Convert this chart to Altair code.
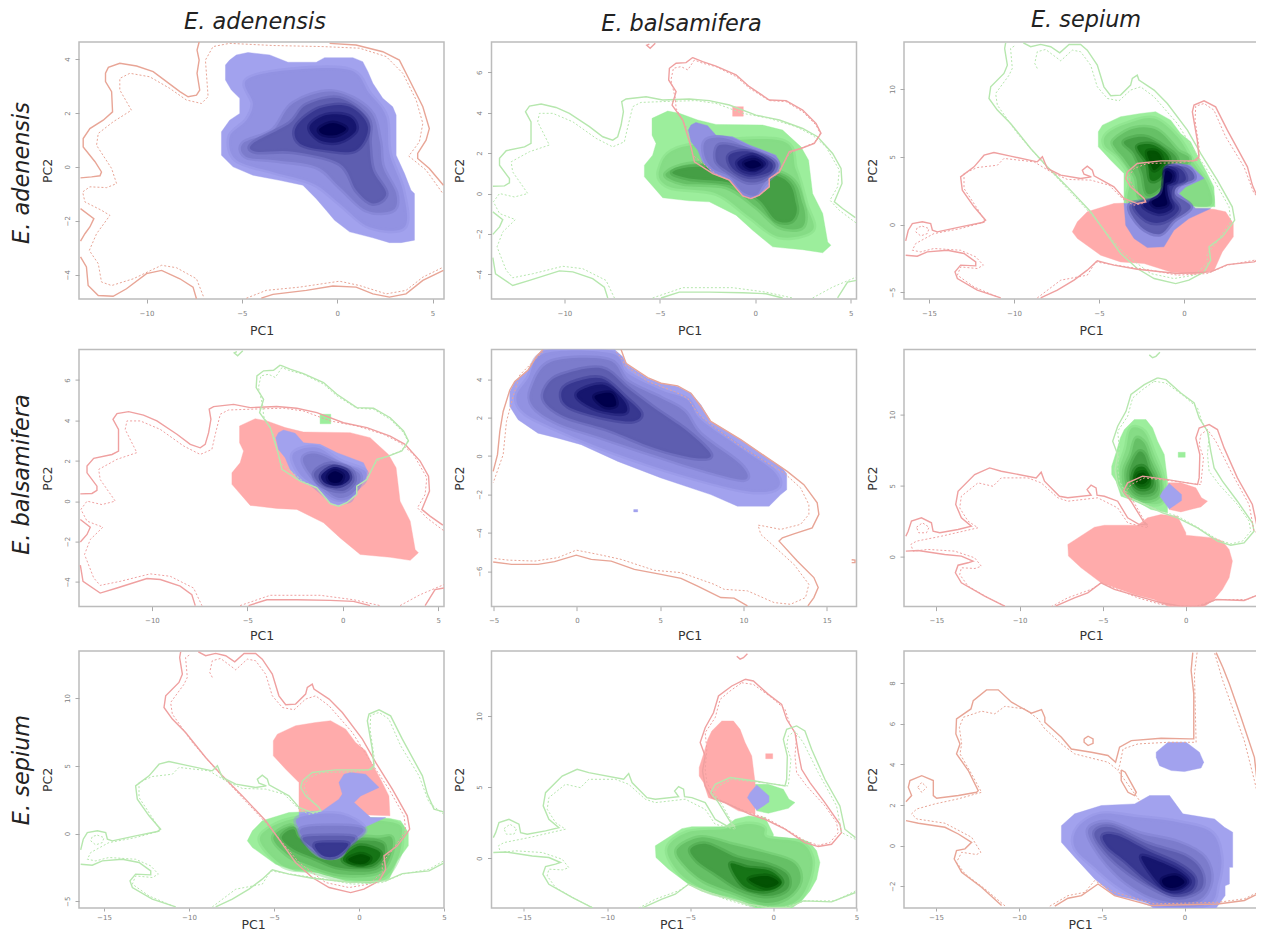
import altair as alt
import pandas as pd

# ---------- colours ----------
SALMON = "#e8a596"
RED_LINE = "#efa0a0"
GREEN_LINE = "#b6e7ae"
RED_FILL = "#ffabab"
GREEN_RAMP = ["#9cee9c", "#86dc86", "#66c066", "#459f45", "#167416", "#035203"]
BLUE_RAMP = ["#a2a2ee", "#9292e2", "#7c7ccc", "#5e5eb0", "#383890", "#16166e", "#00004c"]

# ---------- panel (adenensis, adenensis) ----------
A1_S1 = [(-7.24,4.63),(-7.35,4.33),(-7.24,3.96),(-7.35,3.47),(-7.21,2.85),(-7.38,2.66),(-7.82,2.6),(-8.25,2.79),(-8.95,3.16),(-9.65,3.53),(-10.52,3.74),(-11.4,3.84),(-12.0,3.69),(-12.15,3.47),(-12.15,3.16),(-11.83,2.79),(-11.78,2.04),(-12.27,1.73),(-12.97,1.42),(-13.32,1.05),(-13.32,0.74),(-12.7,0.19),(-12.36,-0.19),(-12.44,-0.33),(-12.88,-0.37),(-13.46,-0.41)]
A1_S2 = [(-13.46,-1.55),(-12.76,-1.92),(-12.97,-2.23),(-13.23,-2.48),(-13.46,-2.75)]
A1_S3 = [(-13.46,-3.34),(-13.15,-3.71),(-13.06,-4.4),(-12.53,-4.77),(-11.75,-4.8),(-11.05,-4.52),(-10.0,-3.96),(-9.21,-3.84),(-8.25,-4.15),(-7.56,-4.46),(-7.38,-4.89)]
A1_S4 = [(-3.98,-4.87),(-3.37,-4.73),(-1.62,-4.58),(-0.23,-4.42),(0.99,-4.46),(1.87,-4.71),(2.74,-4.83),(3.61,-4.71),(4.49,-4.21),(5.57,-3.84)]
A1_S5 = [(-0.4,4.58),(0.99,4.52),(2.39,4.27),(3.26,3.96),(3.79,3.22),(4.49,2.23),(4.83,1.42),(4.66,0.99),(4.22,0.5),(4.22,0.31),(4.83,-0.06),(5.57,-0.68)]
A1_D1 = [(5.5,-0.95),(4.66,-0.12),(3.75,0.4),(4.31,0.93),(4.49,1.61),(4.14,2.48),(3.44,3.47),(2.57,4.09),(1.17,4.4),(-0.75,4.46),(-3.37,4.5),(-5.64,4.58),(-6.51,4.46),(-6.91,3.96),(-6.77,2.6),(-7.12,2.35),(-7.91,2.48),(-8.78,2.91),(-9.83,3.34),(-10.87,3.47),(-11.4,3.28),(-11.4,2.85),(-10.79,2.1),(-11.75,1.67),(-12.53,1.24),(-12.62,0.8),(-11.83,-0.06),(-11.57,-0.62),(-12.09,-0.77),(-12.97,-0.74),(-13.35,-0.93),(-13.23,-1.3),(-12.36,-1.61),(-11.92,-1.8),(-12.62,-2.48),(-13.0,-3.1),(-12.53,-3.59),(-12.36,-4.27),(-11.83,-4.4),(-10.69,-4.15),(-9.21,-3.65),(-8.43,-3.74),(-7.38,-4.15),(-6.98,-4.87)]
A1_D2 = [(-4.76,-4.87),(-3.72,-4.58),(-1.97,-4.46),(0.12,-4.24),(1.17,-4.4),(2.57,-4.71),(3.61,-4.58),(4.49,-4.09),(5.5,-3.74)]
A1_OUT = [(-5.29,4.15),(-4.68,4.24),(-3.54,4.15),(-2.58,3.88),(-1.1,3.88),(-0.66,4.05),(0.82,4.05),(1.34,3.9),(1.61,3.53),(1.87,3.1),(2.39,2.54),(2.91,2.23),(3.09,1.92),(3.09,0.43),(3.53,-0.25),(3.87,-0.87),(4.05,-0.99),(4.05,-2.72),(3.35,-2.81),(2.74,-2.81),(1.87,-2.63),(0.65,-2.41),(-0.14,-1.98),(-0.58,-1.61),(-1.1,-1.18),(-1.8,-0.68),(-3.02,-0.5),(-4.42,-0.31),(-5.46,0),(-6.07,0.43),(-6.07,1.3),(-5.64,1.73),(-5.11,1.98),(-5.11,2.54),(-5.55,2.85),(-5.86,3.22),(-5.86,3.78),(-5.64,3.96)]
A1_LEVELS = [
 [(-4.76,3.22),(-2.5,3.59),(0.65,3.59),(1.69,2.72),(2.57,1.86),(2.74,0.5),(3.44,-0.87),(3.53,-2.23),(1.69,-2.23),(0.12,-1.36),(-1.27,-0.62),(-3.37,-0.19),(-5.29,0.25),(-5.64,1.11),(-4.76,1.73),(-4.42,2.35)],
 [(-4.94,0.87),(-3.37,1.36),(-2.32,2.35),(-0.23,2.79),(1.69,2.1),(2.22,0.99),(2.39,0),(3.09,-0.99),(2.91,-1.61),(1.52,-1.61),(0.12,-0.74),(-1.1,0),(-3.37,0.25),(-4.76,0.37)],
 [(-4.42,0.87),(-2.5,1.61),(-1.62,2.29),(0.12,2.54),(1.61,1.8),(1.69,0.87),(1.87,-0.12),(2.57,-0.99),(1.87,-1.36),(1.0,-0.87),(0.12,0.12),(-2.32,0.56),(-4.24,0.56)],
 [(-2.15,1.49),(-0.92,2.17),(0.65,2.23),(1.61,1.49),(0.99,0.62),(-0.58,0.62),(-1.97,0.87)],
 [(-1.45,1.49),(-0.58,1.92),(0.65,1.86),(0.99,1.36),(0.12,0.93),(-0.92,0.99)],
 [(-0.92,1.42),(-0.23,1.63),(0.47,1.42),(-0.05,1.18),(-0.75,1.21)],
]

# ---------- adenensis / balsamifera space ----------
AB_A_S1 = [(5.24,-1.19),(4.57,-0.74),(4.14,-0.41),(4.54,0.5),(4.49,1.24),(4.05,1.98),(3.26,2.81),(2.48,3.22),(1.26,3.64),(0.03,3.88),(-1.36,4.38),(-2.41,4.6),(-3.46,4.68),(-4.85,4.63),(-5.72,4.79),(-6.77,4.68),(-7.0,4.55),(-6.91,4.05),(-7.03,3.39),(-7.21,2.81),(-7.47,2.64),(-7.99,2.81),(-8.69,3.31),(-9.74,3.97),(-10.44,4.26),(-11.22,4.43),(-11.83,4.33),(-12.04,4.05),(-11.75,3.55),(-11.75,2.48),(-12.09,2.31),(-13.05,2.12),(-13.4,1.74),(-13.4,1.4),(-12.88,0.74),(-12.88,0.53),(-13.14,0.38),(-13.75,0.36)]
AB_A_S2 = [(-13.75,-0.91),(-13.23,-1.29),(-13.4,-1.65),(-13.75,-2.02)]
AB_A_S3 = [(-13.75,-3.17),(-13.61,-3.97),(-12.71,-4.55),(-11.83,-4.3),(-10.26,-3.83),(-9.56,-3.88),(-8.52,-4.21),(-7.91,-4.63),(-7.73,-5.17)]
AB_A_S4 = [(-4.94,-5.17),(-3.98,-4.88),(-2.41,-4.88),(-0.66,-4.91),(0.56,-4.96),(1.43,-5.17)]
AB_A_S5 = [(4.31,-5.17),(4.83,-4.38),(5.3,-4.3)]
AB_A_D1 = [(5.27,-1.45),(4.4,-0.83),(3.91,-0.33),(4.31,0.33),(4.4,1.16),(3.7,2.31),(3.0,2.89),(2.13,3.31),(0.73,3.72),(-0.66,3.97),(-2.06,4.46),(-3.11,4.6),(-4.85,4.55),(-5.99,4.51),(-6.42,4.3),(-6.68,3.31),(-6.86,2.56),(-7.47,2.31),(-8.34,2.73),(-9.56,3.55),(-10.61,3.97),(-11.31,3.97),(-11.4,3.55),(-10.79,2.4),(-11.83,2.07),(-12.79,1.57),(-12.71,1.07),(-11.92,0),(-12.62,-0.17),(-13.4,0),(-13.72,-0.41),(-13.4,-0.99),(-12.57,-1.29),(-13.23,-1.9),(-13.53,-2.64),(-13.05,-3.8),(-12.71,-4.17),(-11.66,-3.97),(-10.09,-3.6),(-9.04,-3.72),(-7.82,-4.3),(-7.38,-5.17)]
AB_A_D2 = [(-5.38,-5.17),(-3.8,-4.66),(-1.19,-4.66),(0.56,-4.88),(1.95,-5.17)]
AB_A_D3 = [(3.0,-5.17),(4.05,-4.63),(5.3,-4.13)]
AB_B_S1 = [(-5.55,7.4),(-5.69,7.34),(-5.51,7.19),(-5.24,7.44)]
AB_B_S2 = [(-3.28,6.73),(-2.76,6.53),(-2.06,6.31),(-1.01,5.87),(-0.31,5.29),(0.73,4.63),(1.61,4.6),(2.48,4.13),(3.18,3.47),(3.44,2.98),(3.09,2.48),(2.39,2.23),(1.78,2.07),(1.26,1.07),(0.73,0.74),(0.73,0.33),(0.21,-0.08),(-0.23,-0.25),(-0.66,-0.12),(-1.36,0.66),(-2.23,0.99),(-3.19,1.57),(-3.37,2.31),(-3.8,3.64),(-4.36,4.38),(-4.15,5.04),(-4.54,5.62),(-4.5,6.2),(-4.15,6.45),(-3.63,6.48),(-3.28,6.73)]
AB_B_D1 = [(-3.19,6.61),(-3.54,6.12),(-3.89,6.28),(-4.29,6.2),(-4.42,5.62),(-4.19,4.71),(-4.15,4.21),(-3.63,3.31),(-3.28,1.9),(-2.84,1.57),(-2.06,0.96),(-1.36,0.66),(-0.66,-0.12),(-0.23,-0.25),(0.21,-0.08),(0.73,0.33),(0.73,0.74),(1.17,0.99),(1.78,1.98),(2.48,2.28),(3.09,2.51),(3.4,2.98),(3.18,3.39),(2.48,4.05),(1.61,4.55),(0.73,4.6),(-0.31,5.21),(-1.01,5.79),(-2.06,6.28),(-2.76,6.45),(-3.19,6.61)]
G1 = [(-4.59,4.08),(-3.98,3.97),(-3.02,3.64),(-2.06,3.42),(0.38,3.39),(1.43,3.14),(2.39,2.31),(2.79,1.65),(3.0,0),(3.53,-0.99),(3.79,-2.4),(3.96,-2.56),(3.53,-2.93),(2.48,-2.78),(0.91,-2.64),(-0.14,-1.82),(-1.01,-1.07),(-2.41,-0.41),(-3.46,-0.36),(-4.85,-0.21),(-5.81,0.83),(-5.81,1.4),(-5.38,1.9),(-5.2,2.48),(-5.41,2.89),(-5.41,3.72)]
G1_LEVELS = [
 [(-5.03,1.16),(-3.8,2.31),(1.26,2.64),(2.13,1.16),(2.65,-0.5),(3.0,-1.82),(1.26,-2.15),(-0.31,-1.16),(-2.06,0),(-4.5,0.33)],
 [(-4.68,0.99),(-2.93,1.49),(1.43,0.99),(2.48,-0.5),(2.48,-1.65),(1.26,-1.65),(0.03,-0.66),(-1.54,0.33),(-3.8,0.5)],
 [(-4.33,1.07),(-2.76,1.32),(1.26,0.83),(2.13,-0.5),(1.95,-1.32),(1.08,-1.32),(0.21,-0.33),(-1.19,0.5),(-3.46,0.74)],
]
B1 = [(-3.11,3.52),(-2.5,3.36),(-2.06,2.89),(-1.19,2.81),(-0.31,2.4),(1.08,1.9),(1.29,1.49),(1.17,0.99),(0.73,0.74),(0.73,0.33),(0.21,-0.08),(-0.23,-0.25),(-0.66,-0.12),(-1.36,0.66),(-2.23,0.99),(-2.76,1.57),(-3.02,2.15),(-3.37,2.56),(-3.51,3.14),(-3.37,3.39)]
B1_LEVELS_UP = [
 [(-2.58,2.64),(-1.54,2.73),(-0.31,2.23),(0.99,1.74),(1.17,1.16),(0.47,0.5),(0.03,-0.08),(-0.66,0.08),(-1.36,0.83),(-2.23,1.24),(-2.67,1.9)],
 [(-1.88,2.4),(-0.66,2.23),(0.91,1.65),(0.99,1.16),(0.38,0.66),(-0.49,0.58),(-1.54,1.16),(-2.06,1.65)],
 [(-1.36,1.9),(-0.31,2.07),(0.82,1.57),(0.73,1.07),(-0.31,0.83),(-1.19,1.24)],
 [(-0.92,1.57),(-0.14,1.9),(0.56,1.49),(0.03,1.07),(-0.66,1.16)],
 [(-0.58,1.49),(-0.05,1.65),(0.3,1.4),(-0.23,1.24)],
]
B1_LEVELS_DOWN = [
 [(-2.61,2.34),(-1.39,2.66),(-0.17,2.0),(1.13,1.51),(1.13,1.02),(0.61,0.53),(0.35,0.03),(-0.52,0.03),(-1.39,0.69),(-2.26,1.35)],
 [(-2.09,2.09),(-1.39,2.34),(0,1.76),(0.87,1.35),(0.78,0.69),(0.17,0.2),(-0.52,0.28),(-1.57,1.18)],
 [(-1.48,1.43),(-0.7,1.84),(0.35,1.6),(0.61,1.02),(0.09,0.53),(-0.7,0.61),(-1.3,0.94)],
 [(-1.13,1.27),(-0.52,1.68),(0.17,1.51),(0.35,1.1),(-0.17,0.77),(-0.87,0.86)],
 [(-0.78,1.22),(-0.43,1.48),(0,1.27),(-0.17,0.94),(-0.61,0.94)],
]
AB_PATCH = [(-1.19,4.3),(-0.63,4.3),(-0.63,3.83),(-1.19,3.83)]

# ---------- adenensis / sepium space ----------
AS_U_S1 = [(-9.45,13.42),(-9.02,13.13),(-8.43,13.3),(-7.84,13.13),(-7.31,12.68),(-6.76,13.3),(-6.08,13.3),(-5.69,12.88),(-5.1,11.77),(-4.71,10.17),(-4.31,9.51),(-3.73,9.56),(-3.14,10.3),(-3.04,10.79),(-2.75,11.03),(-2.65,10.67),(-1.76,9.93),(-0.98,8.94),(0.2,6.97),(0.98,5.25),(1.96,3.28),(2.84,1.31),(2.98,0.32),(2.84,0.07),(2.25,-0.91),(1.47,-1.65),(1.57,-2.64),(1.18,-3.5),(0.29,-4.11),(-0.49,-4.36),(-1.76,-3.99),(-2.75,-3.25),(-3.73,-2.14),(-4.71,-0.42),(-5.49,0.94),(-6.86,2.78),(-8.04,4.26),(-9.02,5.62),(-10.2,7.46),(-10.98,8.45),(-11.47,9.31),(-11.37,10.17),(-10.59,11.16),(-10.39,11.77),(-10.55,13.0),(-10.49,13.42)]
AS_U_D1 = [(-8.63,11.53),(-8.78,11.9),(-8.63,12.76),(-8.14,12.93),(-7.25,12.09),(-6.57,12.88),(-6.08,12.76),(-5.49,11.77),(-5.1,10.17),(-4.51,9.31),(-3.82,9.14),(-3.14,9.93),(-2.55,10.17),(-1.76,9.43),(-0.39,7.46),(0.59,5.49),(1.76,3.28),(2.65,1.31),(2.75,0.2),(1.86,-1.4),(1.37,-2.14),(1.37,-2.88),(0.59,-3.74),(-0.59,-3.99),(-1.96,-3.62),(-3.53,-2.14),(-4.51,-0.67),(-5.49,0.81),(-7.06,2.91),(-8.43,4.75),(-9.8,6.72),(-10.98,8.82),(-11.08,9.68),(-10.29,11.03),(-10.1,11.53),(-10.2,13.0),(-9.9,13.25)]
AS_L_S1 = [(4.98,1.6),(4.41,1.8),(4.02,2.91),(3.73,4.26),(2.55,6.97),(1.86,8.69),(1.18,9.14),(0.59,8.82),(0.49,8.33),(0.78,6.23),(0.88,5.0),(0.59,4.7),(-1.37,4.7),(-2.75,4.51),(-3.33,3.89),(-3.43,3.4),(-3.14,2.78),(-2.35,1.92),(-2.25,1.67),(-2.75,1.55),(-3.53,1.92),(-4.12,2.78),(-5.29,3.6),(-5.39,4.01),(-5.69,4.31),(-5.98,4.01),(-5.88,3.72),(-5.45,3.52),(-6.08,3.4),(-7.25,3.65),(-8.04,4.14),(-8.33,5.0),(-8.63,4.63),(-10.2,5.05),(-11.18,5.32),(-11.76,5.12),(-12.35,4.26),(-13.14,3.52),(-13.04,2.54),(-12.35,1.31),(-11.67,0.32),(-11.86,0.15),(-13.14,-0.17),(-14.51,-0.54),(-14.8,-0.42),(-14.9,0.07),(-15.39,0.2),(-15.98,0.07),(-16.22,-0.42),(-16.37,-1.21)]
AS_L_S2 = [(-16.37,-2.27),(-15.69,-2.34),(-15.1,-2.02),(-13.92,-1.9),(-12.94,-2.14),(-12.25,-2.76),(-12.25,-3.05),(-13.14,-3.0),(-13.47,-3.5),(-13.33,-3.99),(-12.16,-4.85),(-10.78,-5.42)]
AS_L_S3 = [(-8.43,-5.42),(-7.45,-4.85),(-6.47,-4.11),(-5.69,-3.37),(-5.1,-2.68),(-4.12,-3.0),(-2.75,-3.3),(-0.39,-3.62),(1.57,-3.5),(2.55,-2.96),(4.12,-2.76),(4.98,-2.19)]
AS_L_D1 = [(4.98,1.43),(4.12,2.29),(3.53,4.26),(2.45,6.48),(1.76,8.45),(1.18,8.94),(0.69,8.74),(0.65,7.71),(0.88,5.74),(0.88,4.75),(-0.39,4.56),(-2.16,4.51),(-2.94,4.14),(-3.27,3.52),(-2.94,2.66),(-2.25,1.8),(-2.45,1.55),(-2.94,1.43),(-3.53,1.8),(-4.41,2.91),(-5.49,3.28),(-6.86,3.33),(-7.84,3.89),(-8.82,4.63),(-10.59,4.88),(-10.98,4.38),(-12.16,4.21),(-12.94,3.77),(-12.94,2.66),(-12.16,1.18),(-11.67,0.2),(-13.14,-0.3),(-14.71,-0.67),(-15.78,-1.4),(-15.98,-1.9),(-15.49,-2.02),(-14.71,-1.77),(-13.14,-1.9),(-12.25,-2.39),(-11.8,-3.0),(-12.16,-3.25),(-13.14,-3.13),(-13.33,-3.74),(-12.35,-4.61),(-10.98,-5.34)]
AS_L_D2 = [(-8.63,-5.42),(-7.25,-4.11),(-5.69,-3.74),(-5.2,-2.76),(-3.33,-3.13),(-1.96,-3.37),(-0.39,-3.74),(1.37,-3.62),(2.55,-3.0),(4.12,-2.64),(4.98,-2.02)]
AS_L_D3 = [(-15.39,-0.12),(-15.0,-0.3),(-15.1,-0.67),(-15.49,-0.84),(-15.78,-0.54),(-15.69,-0.22),(-15.39,-0.12)]
AS_U = [(-4.8,7.34),(-3.73,7.96),(-2.55,8.2),(-1.67,8.33),(-0.78,7.71),(-0.2,6.72),(0.39,6.11),(0.78,5.12),(1.27,4.01),(1.76,2.78),(1.82,1.31),(-3.53,1.55),(-3.53,3.77),(-4.31,4.75),(-5.04,5.74),(-5.04,6.85)]
AS_V = [(-5.69,0.94),(-4.12,1.55),(-2.16,1.67),(0.59,1.18),(1.76,1.13),(2.45,0.94),(2.9,0.07),(2.9,-0.91),(2.25,-2.02),(1.76,-3.42),(0.59,-3.67),(-0.78,-3.5),(-2.35,-2.88),(-3.73,-2.76),(-4.9,-2.27),(-6.27,-1.03),(-6.57,-0.54),(-6.27,0.2)]
AS_W = [(-0.49,4.51),(0.39,4.38),(1.18,3.4),(0.1,2.78),(-0.29,2.29),(0.69,1.18),(1.57,1.18),(0.29,0.44),(-0.59,-0.42),(-1.18,-1.65),(-2.16,-1.7),(-2.94,-1.03),(-3.43,-0.05),(-3.53,1.55),(-2.16,1.67),(-1.18,2.54),(-0.98,2.91),(-1.18,3.77),(-0.88,4.38)]
AS_U_LEVELS = [
 [(-4.51,6.72),(-3.33,7.46),(-1.76,7.83),(-0.39,6.48),(0.59,4.51),(1.37,3.03),(1.57,1.43),(-0.2,1.43),(-3.14,1.55),(-3.14,3.52),(-3.92,5.0),(-4.67,5.86)],
 [(-4.12,6.23),(-2.94,7.1),(-1.57,6.97),(-0.39,5.49),(0.29,4.63),(-1.37,2.04),(-2.55,1.92),(-2.84,3.52),(-3.53,4.88),(-4.02,5.62)],
 [(-3.53,6.11),(-2.35,6.48),(-1.18,5.74),(-0.39,4.63),(-1.37,2.78),(-2.16,2.29),(-2.45,3.77),(-2.94,5.25)],
 [(-2.75,5.74),(-1.76,5.86),(-0.88,4.88),(-1.37,3.52),(-1.96,3.28),(-2.16,4.51)],
 [(-2.16,5.37),(-1.57,5.37),(-1.27,4.63),(-1.76,4.01),(-2,4.63)],
]
AS_W_LEVELS_UP = [
 [(-0.9,4.3),(0.2,4.2),(0.6,3.4),(-0.3,2.9),(-0.5,2.2),(0.4,1.3),(-0.6,0.3),(-1.4,-0.7),(-2.5,-0.2),(-3.2,1.4),(-1.7,1.9),(-1.0,2.9),(-1.1,3.8)],
 [(-1.0,4.2),(-0.2,4.1),(0.1,3.3),(-0.6,2.8),(-0.7,2.0),(-0.3,1.1),(-1.2,0.2),(-2.2,0.3),(-2.9,1.4),(-1.6,1.9),(-1.0,2.9)],
 [(-1.1,4.1),(-0.5,3.9),(-0.5,3.2),(-1.0,2.9),(-0.9,2.0),(-0.7,1.2),(-1.5,0.8),(-2.4,1.4),(-1.5,2.0),(-1.1,3.0)],
 [(-1.1,3.9),(-0.7,3.7),(-0.8,3.2),(-1.1,3.0),(-1.1,2.2),(-1.0,1.5),(-1.6,1.3),(-1.9,1.7),(-1.3,2.3)],
]
AS_V_LEVELS = [
 [(-5.82,-0.54),(-5.04,0.57),(-3.47,1.19),(-2.1,1.19),(2.02,0.81),(2.51,-0.3),(2.22,-2.02),(1.24,-3.38),(-0.92,-3.38),(-2.88,-2.77),(-4.45,-2.4)],
 [(-5.04,-0.3),(-4.06,0.57),(-3.08,0.2),(0.84,-0.3),(1.92,-0.3),(1.82,-1.78),(1.04,-2.89),(-1.12,-3.01),(-3.08,-2.27),(-4.25,-1.53)],
 [(-4.55,-0.3),(-3.86,0.32),(-3.08,-0.54),(0.84,-0.54),(1.53,-1.28),(0.94,-2.52),(-1.12,-2.52),(-2.69,-1.78),(-3.86,-1.16)],
 [(-0.92,-1.78),(0.06,-0.91),(1.24,-1.41),(0.75,-2.27),(-0.53,-2.27)],
 [(-0.63,-1.9),(0.06,-1.53),(0.65,-1.78),(0.35,-2.22),(-0.24,-2.22)],
]
AS_W_LEVELS_DOWN = [
 [(-3.53,1.19),(-1.12,1.43),(0.35,0.32),(-0.63,-0.79),(-1.12,-1.65),(-2.1,-1.73),(-2.88,-1.04),(-3.47,0.2)],
 [(-3.43,0.32),(-1.51,0.57),(0.25,0.32),(-0.63,-0.79),(-1.22,-1.65),(-2.1,-1.65),(-2.88,-0.91)],
 [(-3.27,-0.3),(-1.51,-0.17),(-0.24,-0.3),(-0.73,-1.04),(-1.31,-1.65),(-2.1,-1.65),(-2.78,-1.04)],
 [(-2.59,-0.79),(-1.51,-0.67),(-0.63,-0.79),(-1.31,-1.65),(-2.1,-1.65)],
]

# ---------- balsamifera / sepium space ----------
BS_B_S1 = [(-2.2,14.2),(-2.0,14.0),(-1.8,14.1),(-1.56,14.38)]
BS_B_S2 = [(-1.7,12.58),(-1.2,12.46),(-0.3,11.52),(0.5,10.82),(0.8,9.77),(1.3,8.83),(1.5,7.42),(1.7,6.25),(2.2,5.32),(3.1,3.91),(4.0,2.39),(4.1,1.8),(3.5,0.98),(2.7,0.82),(1.9,1.1),(0.7,2.04),(-0.5,2.74),(-1.4,3.09),(-2.9,3.91),(-3.7,4.26),(-4.1,5.08),(-4.26,6.14),(-4.1,7.19),(-4.4,8.13),(-4.1,9.18),(-3.6,10.23),(-3.3,11.41),(-2.5,12.11),(-1.7,12.58)]
BS_B_D1 = [(-1.9,12.34),(-1.2,12.22),(-0.1,11.29),(0.7,10.47),(1.0,9.41),(1.4,8.59),(1.3,7.19),(1.4,6.02),(2.0,5.08),(3.1,3.68),(3.8,2.51),(3.9,1.8),(3.4,1.1),(2.7,0.91),(1.9,1.22),(0.6,2.15),(-0.5,2.86),(-1.5,3.21),(-2.9,3.91),(-3.5,4.26),(-4.0,5.32),(-4.1,6.25),(-4.0,7.66),(-4.1,8.83),(-3.5,9.88),(-3.2,11.17),(-2.6,11.76),(-1.9,12.34)]
BS_S_S1 = [(4.94,1.45),(4.3,2.04),(4.0,3.68),(3.1,5.55),(2.3,7.66),(1.9,8.95),(1.4,9.3),(0.8,9.06),(0.6,8.36),(0.84,7.19),(0.8,5.55),(0.7,5.08),(-1.1,5.43),(-2.6,5.67),(-3.5,5.2),(-3.76,4.61),(-3.3,3.91),(-2.5,2.39),(-2.3,2.27),(-2.8,2.27),(-3.5,2.74),(-4.1,3.91),(-4.9,4.26),(-5.34,4.33),(-5.4,4.85),(-5.7,5.04),(-5.94,4.73),(-5.7,4.33),(-7.1,4.15),(-7.6,4.26),(-8.5,5.32),(-8.7,5.95),(-9.0,5.55),(-11.1,6.02),(-11.8,6.25),(-12.7,5.78),(-13.7,4.61),(-13.84,3.68),(-13.5,2.74),(-12.9,2.15),(-13.7,1.92),(-14.8,1.69),(-15.2,1.8),(-15.3,2.39),(-15.9,2.74),(-16.5,2.51),(-16.7,1.8),(-16.84,1.45)]
BS_S_S2 = [(-16.84,0.4),(-16.1,0.44),(-14.5,0.16),(-13.5,0.05),(-12.8,-0.3),(-13.1,-0.42),(-13.7,-0.59),(-13.86,-1.12),(-13.5,-1.83),(-12.1,-2.76),(-10.9,-3.47)]
BS_S_S3 = [(-7.84,-3.47),(-6.7,-2.88),(-5.9,-2.53),(-5.1,-1.83),(-4.3,-2.29),(-2.9,-2.76),(-1.5,-3.23),(-0.3,-3.47),(0.9,-3.47),(1.8,-3.0),(3.5,-3.07),(4.94,-2.41)]
BS_S_D1 = [(4.94,1.33),(4.1,1.8),(3.8,3.68),(2.7,6.02),(1.8,8.13),(1.3,8.95),(0.9,8.59),(0.8,7.89),(1.06,6.96),(0.9,5.08),(-0.7,5.32),(-2.5,5.55),(-3.3,5.08),(-3.6,4.61),(-3.1,3.79),(-2.26,2.04),(-2.7,2.15),(-3.5,2.39),(-4.1,3.44),(-5.3,4.15),(-7.1,3.91),(-7.7,4.15),(-8.7,5.2),(-9.5,5.55),(-11.1,5.55),(-11.6,4.96),(-12.5,5.2),(-13.5,4.26),(-13.6,3.44),(-13.1,2.51),(-12.5,2.04),(-14.7,1.45),(-16.2,1.1),(-16.54,0.87),(-16.4,0.4),(-15.5,0.52),(-13.9,0.4),(-12.7,-0.07),(-12.3,-0.66),(-12.68,-0.82),(-13.5,-0.77),(-13.6,-1.24),(-13.1,-2.06),(-11.9,-2.88),(-10.8,-3.51)]
BS_S_D2 = [(-8.1,-3.51),(-7.1,-2.88),(-5.7,-2.29),(-5.1,-1.83),(-4.1,-2.29),(-2.9,-2.88),(-1.5,-3.35),(0.5,-3.51),(1.9,-3.0),(3.7,-3.0),(4.94,-2.3)]
BS_S_D3 = [(-16.2,2.08),(-15.84,2.39),(-15.44,2.08),(-15.6,1.69),(-16.06,1.69),(-16.2,2.08)]
BS_T = [(-3.1,9.65),(-2.4,9.65),(-2.0,9.06),(-1.7,8.13),(-1.3,7.19),(-1.1,5.32),(-1.1,3.09),(-2.1,3.33),(-2.9,3.86),(-3.9,4.26),(-4.2,5.32),(-4.46,5.78),(-4.46,6.37),(-4.2,7.31),(-3.94,8.36),(-3.7,8.95)]
BS_T_LEVELS = [
 [(-3.3,9.0),(-2.5,8.8),(-1.9,7.2),(-1.4,5.6),(-1.4,3.9),(-2.5,3.8),(-3.7,4.6),(-4.0,6.0),(-3.6,7.6)],
 [(-3.0,8.3),(-2.5,8.0),(-2.1,6.8),(-1.6,5.4),(-1.7,4.2),(-2.7,4.0),(-3.5,4.7),(-3.7,6.0),(-3.3,7.2)],
 [(-2.9,7.3),(-2.5,7.2),(-2.2,6.2),(-1.8,5.2),(-2.0,4.5),(-2.8,4.4),(-3.3,5.0),(-3.4,6.0)],
 [(-3.0,6.2),(-2.5,6.3),(-2.1,5.5),(-2.2,4.9),(-2.8,4.8),(-3.2,5.4)],
 [(-2.9,5.8),(-2.5,5.9),(-2.3,5.4),(-2.6,5.1),(-3.0,5.3)],
]
BS_PATCH = [(-0.46,7.35),(-0.04,7.35),(-0.04,7.0),(-0.46,7.0)]
BS_Q = [(-7.1,0.87),(-6.7,1.17),(-5.5,2.08),(-4.9,2.22),(-2.9,2.22),(-2.3,2.74),(-1.5,2.97),(-0.5,2.86),(0,1.69),(0,1.52),(1.7,1.33),(2.2,1.1),(2.6,0.52),(2.8,-0.3),(2.6,-1.48),(2.2,-2.3),(1.7,-3.0),(1.1,-3.51),(-1.0,-3.51),(-1.9,-3.0),(-3.1,-2.65),(-5.1,-1.83),(-6.3,-0.77),(-7.06,0.05)]
BS_R = [(-1.1,5.2),(-0.3,5.2),(0.6,4.85),(0.94,4.15),(1.3,3.91),(0.9,3.51),(-0.3,3.16),(-1.0,3.33)]
BS_Z = [(-1.0,5.15),(-0.6,4.73),(-0.26,4.38),(-0.26,3.96),(-0.6,3.68),(-1.0,3.37),(-1.2,3.68),(-1.56,4.26),(-1.4,4.61)]
BS_Q_LEVELS = [
 [(-6.38,0.64),(-5.18,1.81),(-2.98,2.05),(-1.58,2.4),(-0.58,2.16),(-0.38,1.46),(1.62,1.11),(2.32,0.05),(2.22,-1.36),(1.62,-2.78),(0.62,-3.36),(-0.98,-3.36),(-2.38,-2.78),(-3.98,-2.31),(-5.58,-1.13)],
 [(-5.78,0.64),(-4.38,1.46),(-2.58,0.99),(-0.58,0.4),(1.22,-0.31),(1.62,-1.6),(0.82,-2.78),(-0.58,-3.13),(-2.38,-2.42),(-4.18,-1.6),(-5.38,-0.42)],
 [(-4.98,0.64),(-3.98,0.99),(-2.18,0.05),(-0.38,-0.42),(0.82,-1.13),(0.82,-2.19),(-0.38,-2.66),(-1.98,-2.19),(-3.58,-1.01),(-4.58,-0.19)],
 [(-2.58,-0.42),(-1.58,-0.66),(-0.18,-0.89),(0.52,-1.72),(-0.38,-2.31),(-1.78,-1.95)],
 [(-1.48,-1.48),(-0.38,-1.25),(0.32,-1.72),(-0.48,-2.07)],
]

# ---------- panel (balsamifera, balsamifera) ----------
BB_S1 = [(2.65,5.54),(2.95,4.83),(4.25,4.08),(5.05,3.79),(6.05,3.65),(6.85,3.27),(7.45,2.58),(8.04,1.8),(9.84,0.85),(11.44,-0.1),(12.63,-0.8),(13.63,-1.49),(14.43,-2.44),(14.53,-3.04),(14.13,-3.74),(13.03,-4.05),(12.34,-4.26),(12.14,-4.43),(13.23,-5.47),(14.23,-6.33),(14.49,-6.85),(14.23,-7.37),(13.87,-7.8)]
BB_S2 = [(-2.04,5.54),(-2.44,5.17),(-2.93,4.48),(-3.73,3.88),(-4.03,3.44),(-4.43,2.32),(-4.63,1.28),(-4.77,0.07),(-5.03,-0.8)]
BB_S3 = [(-5.03,-5.52),(-3.93,-5.64),(-2.34,-5.64),(-1.34,-5.5),(-0.04,-5.16),(0.86,-5.38),(2.06,-5.47),(3.45,-5.9),(5.05,-6.16),(6.25,-6.37),(7.25,-6.77),(8.64,-7.37),(9.44,-7.4),(10.24,-7.8)]
BB_S4 = [(16.5,-5.4),(16.7,-5.42),(16.7,-5.55),(16.5,-5.55)]
BB_D1 = [(2.36,5.43),(2.75,5.0),(2.85,4.74),(4.25,3.88),(5.85,3.36),(6.65,3.01),(7.25,2.23),(8.04,1.63),(9.84,0.5),(11.44,-0.36),(12.44,-0.88),(13.43,-1.66),(13.93,-2.53),(13.93,-3.04),(13.43,-3.56),(12.24,-3.82),(11.24,-3.65),(10.88,-3.6),(11.04,-4.08),(12.04,-4.86),(13.03,-5.64),(13.93,-6.68),(13.73,-7.37),(12.83,-7.72),(11.84,-7.63),(10.24,-7.02),(8.84,-6.94),(8.24,-6.68),(6.25,-6.07),(4.65,-5.95),(2.65,-5.38),(1.26,-5.12),(-0.04,-4.9),(-1.14,-5.29),(-2.53,-5.47),(-4.13,-5.42),(-5.03,-5.33)]
BB_D2 = [(-2.04,5.43),(-3.43,4.22),(-3.83,3.1),(-4.23,1.8),(-4.43,0.07),(-5.03,-1.4)]
BB_OUT = [(-2.04,5.54),(2.26,5.54),(2.75,5.17),(3.05,4.74),(4.25,4.05),(5.05,3.79),(6.05,3.62),(6.85,3.27),(7.45,2.66),(8.04,1.8),(9.84,0.85),(11.44,-0.1),(12.34,-0.62),(12.6,-0.92),(12.6,-1.75),(12.24,-2.01),(11.54,-2.61),(9.64,-2.61),(8.04,-2.01),(5.05,-1.14),(2.46,-0.28),(0.26,0.59),(-1.14,0.93),(-2.34,1.19),(-3.53,1.89),(-4.03,2.58),(-4.03,3.36),(-3.73,3.88),(-2.93,4.48),(-2.44,5.17)]
BB_LEVELS = [
 [(-1.94,5.35),(2.06,5.35),(3.05,4.31),(5.05,3.44),(6.65,2.92),(7.45,1.89),(9.84,0.42),(11.84,-0.8),(12.04,-1.66),(10.24,-1.83),(6.25,-0.97),(2.26,0.16),(-0.94,1.28),(-3.13,2.23),(-3.63,3.1),(-2.93,4.05)],
 [(-1.54,4.91),(1.86,5.0),(3.05,3.88),(5.05,3.01),(6.45,2.32),(7.45,1.11),(9.84,-0.45),(10.04,-1.23),(7.45,-0.71),(4.25,0.16),(1.26,1.02),(-1.14,1.71),(-2.63,2.58),(-2.73,3.53)],
 [(-0.94,4.22),(1.46,4.57),(3.05,3.53),(4.65,2.49),(6.65,1.28),(8.04,0.07),(7.05,-0.1),(4.65,0.42),(1.86,1.37),(-0.74,2.06),(-1.94,2.84),(-1.84,3.62)],
 [(-0.34,3.79),(1.46,4.05),(2.85,3.1),(3.85,2.23),(3.25,1.8),(1.26,2.06),(-0.54,2.58),(-0.94,3.27)],
 [(0.26,3.44),(1.66,3.7),(2.85,2.84),(2.85,2.23),(1.26,2.4),(0.06,3.01)],
 [(1.06,3.1),(2.06,3.27),(2.35,2.66),(1.66,2.58)],
]
BB_DOT = [(3.41,-2.79),(3.65,-2.79),(3.65,-2.91),(3.41,-2.91)]

# ---------- panel (sepium, sepium) ----------
SS_S1 = [(5.06,1.92),(4.72,2.05),(4.42,2.87),(4.22,4.34),(3.41,6.31),(2.71,7.95),(2.31,8.77),(1.91,9.49)]
SS_S2 = [(0.5,9.49),(0.4,8.61),(0.56,7.46),(0.56,5.25),(0.3,5.25),(-1.41,5.28),(-3.21,5.16),(-3.92,4.84),(-4.16,4.1),(-4.62,4.43),(-5.62,4.59),(-6.83,4.75),(-7.43,5.33),(-8.43,6.07),(-8.43,6.31),(-8.63,6.69),(-9.24,6.51),(-10.44,7.05),(-11.24,7.66),(-11.95,7.66),(-12.75,7.13),(-12.89,6.72),(-13.76,6.23),(-13.8,5.49),(-13.55,5.0),(-13.76,4.51),(-13.05,3.69),(-12.45,2.7),(-12.55,2.62),(-13.65,2.46),(-14.96,2.33),(-15.16,2.46),(-15.16,3.2),(-15.86,3.44),(-16.57,3.2),(-16.67,2.87),(-16.47,2.46),(-16.81,2.16)]
SS_S3 = [(-16.81,1.23),(-16.06,1.1),(-14.46,0.9),(-13.65,0.57),(-12.85,0.16),(-13.25,-0.16),(-13.76,-0.25),(-13.9,-0.66),(-13.45,-1.31),(-12.25,-2.05),(-11.04,-2.95)]
SS_S4 = [(-7.83,-2.98),(-7.03,-2.59),(-6.22,-2.46),(-5.22,-1.89),(-4.22,-2.46),(-2.01,-2.95),(2.01,-2.87),(3.61,-2.7),(5.06,-2.13)]
SS_S5 = [(-6.06,5.25),(-5.82,5.38),(-5.52,5.25),(-5.52,5.03),(-5.82,4.92),(-6.06,5.08),(-6.06,5.25)]
SS_S6 = [(-3.82,3.72),(-3.58,3.61),(-2.91,2.62),(-3.01,2.46),(-3.41,2.62),(-3.82,3.2),(-3.82,3.72)]
SS_D1 = [(5.06,1.89),(4.52,2.13),(4.22,3.2),(3.61,5.16),(2.81,6.97),(2.31,8.11),(1.81,9.49)]
SS_D2 = [(0.76,9.49),(0.6,8.44),(0.7,5.08),(-1.0,5.08),(-2.81,5.0),(-3.71,4.75),(-3.92,3.93),(-4.02,3.69),(-2.71,2.21),(-2.71,2.13)]
SS_D3 = [(-4.12,3.77),(-4.62,4.1),(-6.63,4.51),(-7.43,5.0),(-8.43,5.74),(-8.84,6.23),(-9.64,6.72),(-10.84,6.85),(-11.45,6.48),(-12.25,6.61),(-13.35,6.31),(-13.59,5.82),(-13.45,5.0),(-13.55,4.51),(-12.85,3.52),(-12.25,2.62),(-13.65,2.3),(-15.06,2.05),(-16.16,1.8),(-16.47,1.56),(-16.16,1.31),(-14.46,1.1),(-12.85,0.41),(-12.29,-0.33),(-12.55,-0.44),(-13.45,-0.33),(-13.76,-0.82),(-13.25,-1.39),(-12.05,-2.13),(-10.74,-3.03)]
SS_D4 = [(-8.13,-2.98),(-7.03,-2.46),(-6.02,-2.3),(-5.42,-1.72),(-4.22,-2.3),(-1.81,-2.87),(2.01,-2.79),(3.61,-2.62),(5.06,-2.05)]
SS_D5 = [(-16.1,2.87),(-15.86,3.11),(-15.56,2.87),(-15.86,2.62),(-16.1,2.87)]
SS_OUT = [(-6.63,1.56),(-5.02,1.97),(-3.01,2.05),(-2.11,2.46),(-0.9,2.46),(-0.1,1.56),(1.81,1.31),(2.41,0.9),(2.91,0.66),(2.91,-1.07),(2.71,-1.07),(2.71,-1.89),(2.45,-1.97),(2.45,-2.46),(1.91,-3.07),(-1.91,-3.07),(-2.21,-2.79),(-4.22,-2.46),(-5.42,-1.64),(-6.63,-0.57),(-7.43,0.16),(-7.43,0.98)]
SS_LEVELS = [
 [(-6.43,0.9),(-5.02,1.56),(-2.81,1.39),(-0.4,1.15),(1.61,0.66),(2.21,-0.57),(2.01,-1.89),(1.41,-2.87),(-1.61,-2.95),(-3.82,-2.13),(-5.42,-1.07),(-6.63,-0.08)],
 [(-5.82,0.74),(-4.62,1.15),(-2.61,0.57),(-0.4,0.16),(1.2,-0.57),(1.61,-1.72),(0.8,-2.7),(-1.41,-2.7),(-3.41,-1.89),(-5.02,-0.57)],
 [(-5.42,0.66),(-4.42,0.9),(-2.21,0.08),(0,-0.49),(1.0,-1.23),(1.0,-2.13),(-0.4,-2.54),(-2.01,-2.05),(-3.82,-1.07),(-5.02,-0.08)],
 [(-4.92,0.49),(-4.02,0.49),(-2.21,-0.25),(-0.4,-0.9),(0.6,-1.56),(0.4,-2.21),(-0.8,-2.38),(-2.21,-1.72),(-3.61,-0.74),(-4.62,-0.08)],
 [(-2.61,-0.57),(-1.41,-0.82),(-0.2,-1.31),(0.3,-1.8),(-0.4,-2.21),(-1.41,-1.97)],
 [(-1.31,-1.64),(-0.5,-1.48),(0,-1.8),(-0.6,-2.08),(-1.2,-1.97)],
]
SS_BLOB = [(-1.71,4.59),(-1.0,5.08),(0.1,5.08),(0.9,4.59),(1.16,4.1),(1.0,3.82),(0,3.64),(-0.8,3.69),(-1.51,3.93),(-1.71,4.34)]

# ---------- axes ----------
X_AB = [-13.82, 5.3]; Y_AB = [-5.22, 7.5]
X_AS = [-16.47, 5.0]; Y_AS = [-5.5, 13.48]
X_BS = [-16.95, 5.0]; Y_BS = [-3.5, 14.57]
TICKS_X_A = [-10, -5, 0, 5]
TICKS_X_S = [-15, -10, -5, 0, 5]
TICKS_X_S3 = [-15, -10, -5, 0]
TICKS_X_B = [-5, 0, 5, 10, 15]
COLUMN_TITLES = ["E. adenensis", "E. balsamifera", "E. sepium"]
ROW_TITLES = ["E. adenensis", "E. balsamifera", "E. sepium"]

W, H = 365, 257


def frame(segments):
    rows = []
    for s, seg in enumerate(segments):
        for i, (x, y) in enumerate(seg):
            rows.append({"x": x, "y": y, "s": s, "i": i})
    return pd.DataFrame(rows)


def panel(xdom, ydom, xticks, yticks, fills, lines, title_pad=8, tick=4, lab_pad=6, title_x=None, extras=()):
    sx = alt.Scale(domain=xdom, nice=False, zero=False)
    sy = alt.Scale(domain=ydom, nice=False, zero=False)
    place = {} if title_x is None else {"titleX": title_x}
    ax_x = alt.Axis(values=xticks, title="PC1", titlePadding=title_pad, grid=False, domain=False,
                    tickColor="#aaaaaa", tickSize=tick, labelColor="#808080", labelFontSize=7,
                    labelPadding=lab_pad, titleFontSize=12.5, titleFontWeight="normal", titleColor="#333333",
                    titleFont="DejaVu Sans", labelFont="DejaVu Sans", format="d", labelFlush=False, **place)
    ax_y = alt.Axis(values=yticks, title="PC2", titlePadding=9, grid=False, domain=False,
                    tickColor="#aaaaaa", tickSize=4, labelColor="#808080", labelFontSize=7,
                    labelAngle=-90, labelAlign="center", labelBaseline="bottom", labelPadding=5,
                    titleFontSize=12.5, titleFontWeight="normal", titleColor="#333333",
                    titleFont="DejaVu Sans", labelFont="DejaVu Sans", format="d")
    X = alt.X("x:Q", scale=sx, axis=ax_x)
    Y = alt.Y("y:Q", scale=sy, axis=ax_y)
    layers = []
    for fill in fills:
        pts, color = fill[0], fill[1]
        soft = len(fill) > 2
        layers.append(
            alt.Chart(frame([pts])).mark_line(
                fill=color, stroke=color, clip=True,
                strokeWidth=5 if soft else 0.4, strokeOpacity=0.45 if soft else 1,
                strokeJoin="round",
                interpolate="cardinal-closed" if soft else "linear-closed").encode(
                x=X, y=Y, order="i:Q"))
    for segs, color, dashed in lines:
        kw = {"strokeDash": [2, 2], "strokeWidth": 1.0} if dashed else {"strokeWidth": 1.4}
        layers.append(
            alt.Chart(frame(segs)).mark_line(color=color, clip=True, **kw).encode(
                x=X, y=Y, detail="s:N", order="i:Q"))
    for t in extras:
        layers.append(t)
    return alt.layer(*layers).properties(width=W, height=H)


def label(text, px, py, angle=0):
    return alt.Chart(pd.DataFrame({"t": [text]})).mark_text(
        font="DejaVu Sans", fontStyle="italic", fontSize=22.4, color="#222222", angle=angle,
        align="center", baseline="middle").encode(
        x=alt.value(px), y=alt.value(py), text="t:N")


def ramp(levels, colors):
    return [(pts, colors[i], True) for i, pts in enumerate(levels)]


AB_A_SOLID = [AB_A_S1, AB_A_S2, AB_A_S3, AB_A_S4, AB_A_S5]
AB_A_DASH = [AB_A_D1, AB_A_D2, AB_A_D3]
AB_B_SOLID = [AB_B_S1, AB_B_S2]
AB_B_DASH = [AB_B_D1]
AS_U_SOLID = [AS_U_S1]
AS_U_DASH = [AS_U_D1]
AS_L_SOLID = [AS_L_S1, AS_L_S2, AS_L_S3]
AS_L_DASH = [AS_L_D1, AS_L_D2, AS_L_D3]
BS_B_SOLID = [BS_B_S1, BS_B_S2]
BS_B_DASH = [BS_B_D1]
BS_S_SOLID = [BS_S_S1, BS_S_S2, BS_S_S3]
BS_S_DASH = [BS_S_D1, BS_S_D2, BS_S_D3]

LOW = dict(title_pad=-1.25, tick=3, lab_pad=2)

p11 = panel([-13.54, 5.6], [-4.9, 4.63], TICKS_X_A, [-4, -2, 0, 2, 4],
            [(A1_OUT, BLUE_RAMP[0])] + ramp(A1_LEVELS, BLUE_RAMP[1:]),
            [([A1_S1, A1_S2, A1_S3, A1_S4, A1_S5], SALMON, False), ([A1_D1, A1_D2], SALMON, True)],
            extras=[label(COLUMN_TITLES[0], 176, -20), label(ROW_TITLES[0], -57, 131, 270)])

p12 = panel(X_AB, Y_AB, TICKS_X_A, [-4, -2, 0, 2, 4, 6],
            [(AB_PATCH, RED_FILL), (G1, GREEN_RAMP[0])] + ramp(G1_LEVELS, GREEN_RAMP[1:]) +
            [(B1, BLUE_RAMP[1])] + ramp(B1_LEVELS_UP, BLUE_RAMP[2:]),
            [(AB_A_SOLID, GREEN_LINE, False), (AB_A_DASH, GREEN_LINE, True),
             (AB_B_SOLID, RED_LINE, False), (AB_B_DASH, RED_LINE, True)],
            title_x=198, extras=[label(COLUMN_TITLES[1], 190, -18)])

p13 = panel(X_AS, Y_AS, TICKS_X_S3, [-5, 0, 5, 10],
            [(AS_V, RED_FILL), (AS_U, GREEN_RAMP[0])] + ramp(AS_U_LEVELS, GREEN_RAMP[1:]) +
            [(AS_W, BLUE_RAMP[1])] + ramp(AS_W_LEVELS_UP, BLUE_RAMP[3:]),
            [(AS_U_SOLID, GREEN_LINE, False), (AS_U_DASH, GREEN_LINE, True),
             (AS_L_SOLID, RED_LINE, False), (AS_L_DASH, RED_LINE, True)],
            title_x=187, extras=[label(COLUMN_TITLES[2], 182, -22)])

p21 = panel(X_AB, Y_AB, TICKS_X_A, [-4, -2, 0, 2, 4, 6],
            [(G1, RED_FILL), (AB_PATCH, GREEN_RAMP[0]), (B1, BLUE_RAMP[0])] +
            ramp(B1_LEVELS_DOWN, BLUE_RAMP[1:4] + BLUE_RAMP[5:]),
            [(AB_A_SOLID, RED_LINE, False), (AB_A_DASH, RED_LINE, True),
             (AB_B_SOLID, GREEN_LINE, False), (AB_B_DASH, GREEN_LINE, True)],
            title_pad=6, extras=[label(ROW_TITLES[1], -57, 125, 270)])

p22 = panel([-5.13, 16.79], [-7.84, 5.54], TICKS_X_B, [-6, -4, -2, 0, 2, 4],
            [(BB_OUT, BLUE_RAMP[0])] + ramp(BB_LEVELS, BLUE_RAMP[1:]) + [(BB_DOT, BLUE_RAMP[0])],
            [([BB_S1, BB_S2, BB_S3, BB_S4], SALMON, False), ([BB_D1, BB_D2], SALMON, True)],
            title_pad=6, title_x=198)

p23 = panel(X_BS, Y_BS, TICKS_X_S3, [0, 5, 10],
            [(BS_Q, RED_FILL), (BS_R, RED_FILL), (BS_PATCH, GREEN_RAMP[0]), (BS_T, GREEN_RAMP[0])] +
            ramp(BS_T_LEVELS, GREEN_RAMP[1:]) + [(BS_Z, BLUE_RAMP[0])],
            [(BS_B_SOLID, GREEN_LINE, False), (BS_B_DASH, GREEN_LINE, True),
             (BS_S_SOLID, RED_LINE, False), (BS_S_DASH, RED_LINE, True)],
            title_pad=6, title_x=187)

p31 = panel(X_AS, Y_AS, TICKS_X_S, [-5, 0, 5, 10],
            [(AS_U, RED_FILL), (AS_V, GREEN_RAMP[0])] + ramp(AS_V_LEVELS, GREEN_RAMP[1:]) +
            [(AS_W, BLUE_RAMP[0])] + ramp(AS_W_LEVELS_DOWN, BLUE_RAMP[1:]),
            [(AS_U_SOLID, RED_LINE, False), (AS_U_DASH, RED_LINE, True),
             (AS_L_SOLID, GREEN_LINE, False), (AS_L_DASH, GREEN_LINE, True)],
            title_x=174, extras=[label(ROW_TITLES[2], -57, 119, 270)], **LOW)

p32 = panel(X_BS, Y_BS, TICKS_X_S, [0, 5, 10],
            [(BS_Q, GREEN_RAMP[0])] + ramp(BS_Q_LEVELS, GREEN_RAMP[1:]) +
            [(BS_R, GREEN_RAMP[0]), (BS_PATCH, RED_FILL), (BS_T, RED_FILL), (BS_Z, BLUE_RAMP[0])],
            [(BS_B_SOLID, RED_LINE, False), (BS_B_DASH, RED_LINE, True),
             (BS_S_SOLID, GREEN_LINE, False), (BS_S_DASH, GREEN_LINE, True)],
            title_x=180, **LOW)

p33 = panel([-16.93, 5.1], [-3.07, 9.57], TICKS_X_S3, [-2, 0, 2, 4, 6, 8],
            [(SS_BLOB, BLUE_RAMP[0]), (SS_OUT, BLUE_RAMP[0])] + ramp(SS_LEVELS, BLUE_RAMP[1:]),
            [([SS_S1, SS_S2, SS_S3, SS_S4, SS_S5, SS_S6], SALMON, False),
             ([SS_D1, SS_D2, SS_D3, SS_D4, SS_D5], SALMON, True)],
            title_x=176, **LOW)

row1 = alt.hconcat(p11, p12, p13, spacing=47.5, bounds="flush")
row2 = alt.hconcat(p21, p22, p23, spacing=47.5, bounds="flush")
row3 = alt.hconcat(p31, p32, p33, spacing=47.5, bounds="flush")
top = alt.vconcat(row1, row2, spacing=10.6)
chart = alt.vconcat(top, row3, spacing=7).configure_view(
    stroke="#bcbcbc", strokeWidth=1.5, fill="white").properties(
    background="white", padding={"left": 2, "top": 0, "right": -14, "bottom": -2})

chart.save("out.html", embed_options={"renderer": "svg", "actions": False})
